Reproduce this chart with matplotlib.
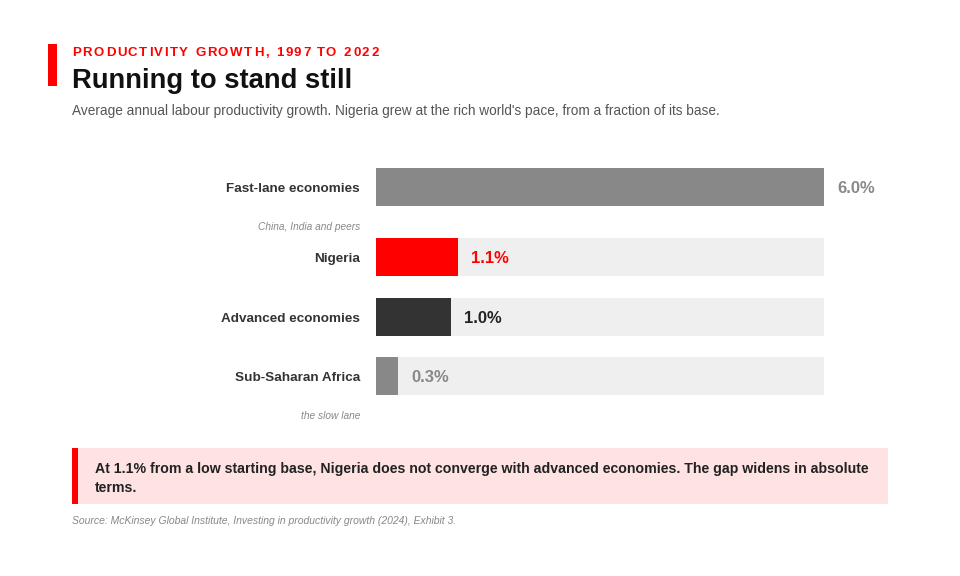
import matplotlib.pyplot as plt
from matplotlib.patches import Rectangle
from matplotlib.font_manager import FontProperties, findfont, get_font

plt.rcParams['font.family'] = ['Liberation Sans', 'DejaVu Sans']

# data
categories = ["Fast-lane economies", "Nigeria", "Advanced economies", "Sub-Saharan Africa"]
values = [6.0, 1.1, 1.0, 0.3]
bar_colors = ["#888888", "#ff0000", "#333333", "#888888"]
value_colors = ["#888888", "#ff0000", "#222222", "#888888"]
notes_below = {"Fast-lane economies": "China, India and peers", "Sub-Saharan Africa": "the slow lane"}

eyebrow = "PRODUCTIVITY GROWTH, 1997 TO 2022"
title = "Running to stand still"
subtitle = ("Average annual labour productivity growth. Nigeria grew at the rich world's pace, "
            "from a fraction of its base.")
callout = ("At 1.1% from a low starting base, Nigeria does not converge with advanced economies. "
           "The gap widens in absolute\nterms.")
source = "Source: McKinsey Global Institute, Investing in productivity growth (2024), Exhibit 3."

W, H = 960, 576
DPI = 100
fig = plt.figure(figsize=(W / DPI, H / DPI), dpi=DPI)
fig.patch.set_facecolor("white")


def fx(x):
    return x / W


def fy(y):
    return 1 - y / H


def spaced_text(x, y, s, spacing, size, weight="normal", **kw):
    # draw glyph by glyph to get letter spacing (tracking)
    font = get_font(findfont(FontProperties(family="Liberation Sans", weight=weight)))
    font.set_size(size, DPI)
    pos = x
    for ch in s:
        fig.text(fx(round(pos)), fy(y), ch, va="baseline", ha="left", fontsize=size,
                 fontweight=weight, **kw)
        pos += font.load_char(ord(ch)).linearHoriAdvance / 65536 + spacing


# header
fig.add_artist(Rectangle((fx(48), fy(86)), fx(9), 42 / H, transform=fig.transFigure,
                         color="#ff0000", lw=0))
spaced_text(72, 56, eyebrow, 1.6, 9.5, weight="bold", color="#ff0000")
fig.text(fx(72), fy(88), title, fontsize=19.7, fontweight="bold", color="#111111",
         va="baseline", ha="left")
fig.text(fx(72), fy(115), subtitle, fontsize=9.8, color="#555555", va="baseline", ha="left")

# bars
row_y = [187, 257, 317, 376]
bar_h = 38
ax = fig.add_axes([fx(376), 0, 448 / W, 1])
ax.set_xlim(0, max(values))
ax.set_ylim(H, 0)
ax.axis("off")

ax.barh(row_y, [max(values)] * len(values), height=bar_h, color="#efefef", lw=0)
ax.barh(row_y, values, height=bar_h, color=bar_colors, lw=0)

for cat, v, y, c in zip(categories, values, row_y, value_colors):
    ax.annotate(f"{v:.1f}%", (v, y + 6), xytext=(9.5, 0), textcoords="offset points",
                fontsize=12, fontweight="bold", color=c, va="baseline", ha="left")
    fig.text(fx(360), fy(y + 5), cat, fontsize=9.7, fontweight="bold", color="#333333",
             va="baseline", ha="right")
    if cat in notes_below:
        fig.text(fx(360), fy(y + 43), notes_below[cat], fontsize=7.3, style="italic",
                 color="#888888", va="baseline", ha="right")

# callout
fig.add_artist(Rectangle((fx(72), fy(504)), 816 / W, 56 / H, transform=fig.transFigure,
                         color="#ffe3e3", lw=0))
fig.add_artist(Rectangle((fx(72), fy(504)), 6 / W, 56 / H, transform=fig.transFigure,
                         color="#ff0000", lw=0))
fig.text(fx(95), fy(478.5), callout, fontsize=10.2, fontweight="bold", color="#222222",
         va="center", ha="left", linespacing=1.5)

fig.text(fx(72), fy(524), source, fontsize=7.5, style="italic", color="#888888",
         va="baseline", ha="left")

fig.savefig("out.png", dpi=DPI)
